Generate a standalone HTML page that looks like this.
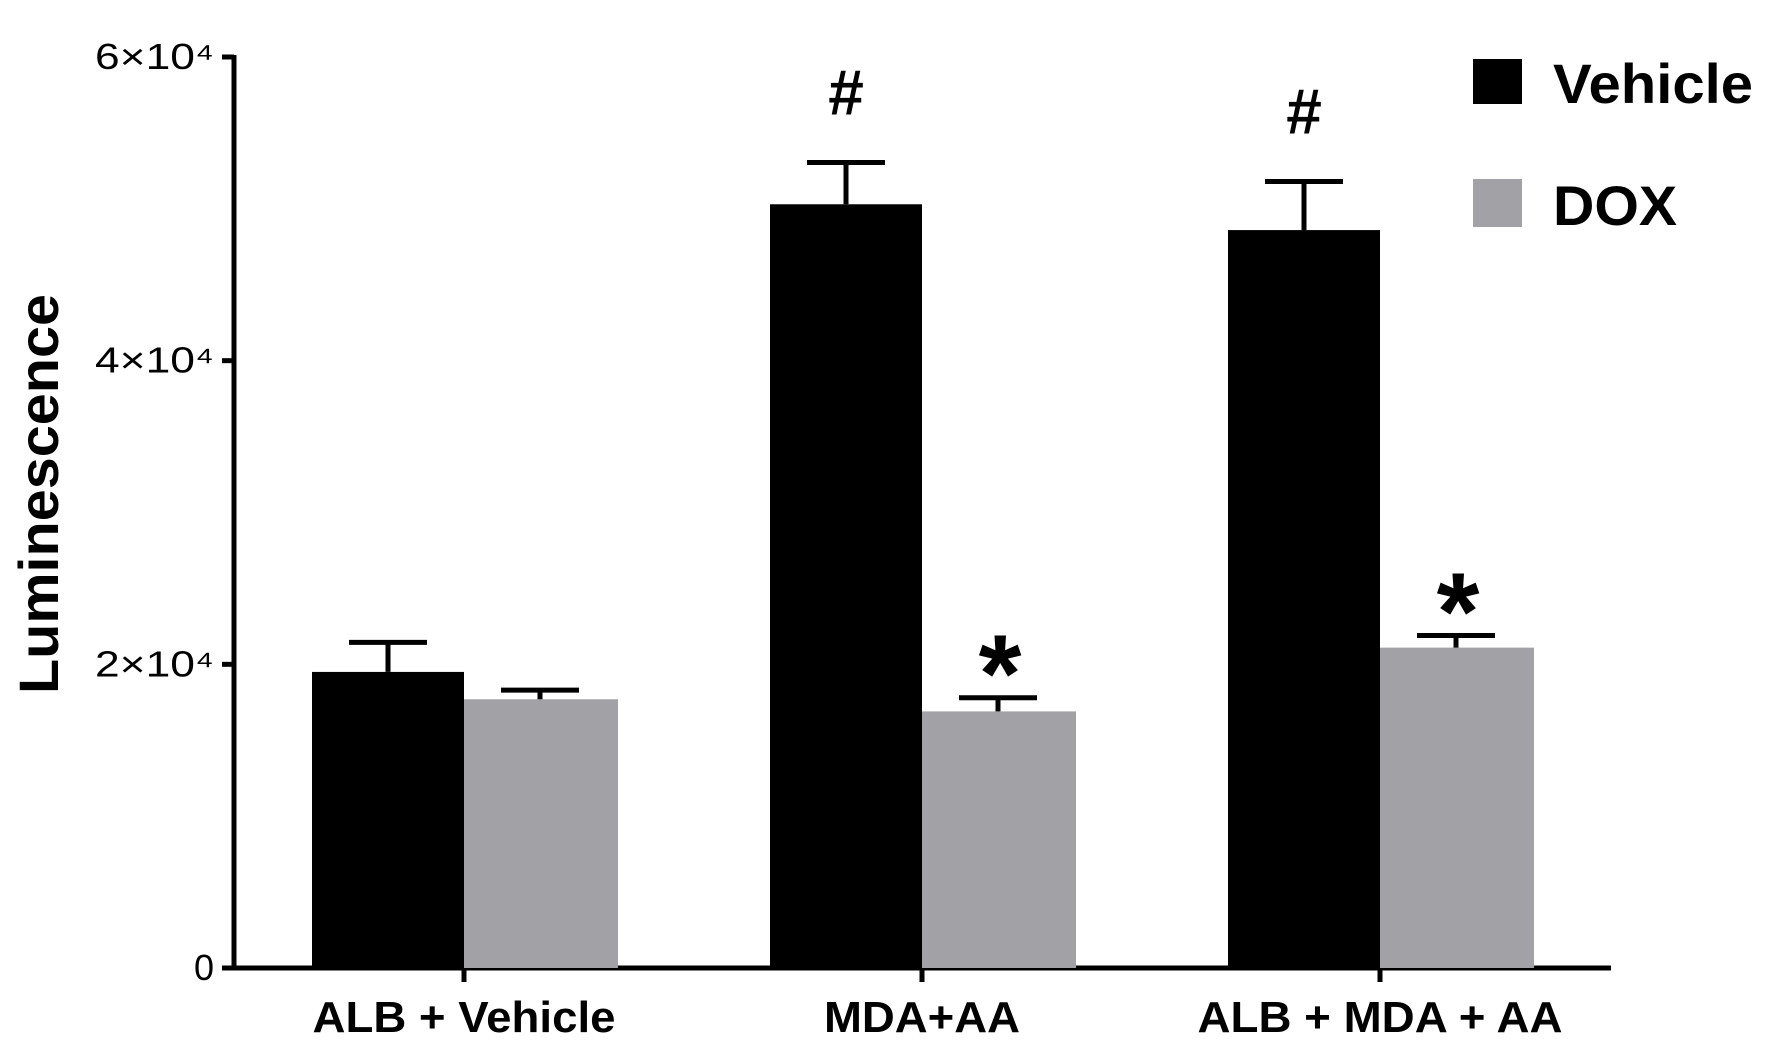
<!DOCTYPE html>
<html><head><meta charset="utf-8"><style>
html,body{margin:0;padding:0;background:#fff;}
svg{display:block;font-family:"Liberation Sans",Arial,sans-serif;}
</style></head><body>
<svg id="chart" width="1774" height="1049" viewBox="0 0 1774 1049">
<g id="axes"></g>
<g id="bars"></g>
<g id="legend">
  <rect x="1473" y="59" width="49" height="45" fill="#000"/>
  <text x="1553" y="103" font-size="56" font-weight="bold" textLength="200" lengthAdjust="spacingAndGlyphs">Vehicle</text>
  <rect x="1473" y="179" width="49" height="48" fill="#a2a2a6"/>
  <text x="1553" y="225" font-size="56" font-weight="bold" textLength="124" lengthAdjust="spacingAndGlyphs">DOX</text>
</g>
<text transform="translate(58,494) rotate(-90)" text-anchor="middle" font-size="56" font-weight="bold" textLength="400" lengthAdjust="spacingAndGlyphs">Luminescence</text>
</svg>
<script>
const categories = ["ALB + Vehicle", "MDA+AA", "ALB + MDA + AA"];
const vehicleValues = [19500, 50300, 48600];
const vehicleErrors = [1950, 2750, 3200];
const doxValues = [17700, 16900, 21100];
const doxErrors = [600, 900, 800];
const yTicks = [0, 20000, 40000, 60000];
const yTickLabels = ["0", "2×10⁴", "4×10⁴", "6×10⁴"];
const markers = ["", "#", "#"];
const doxMarkers = ["", "*", "*"];

const NS = "http://www.w3.org/2000/svg";
const y0 = 968, yTop = 57, yMax = 60000;
function yScale(v){ return y0 - (v / yMax) * (y0 - yTop); }
const groupCenter0 = 464, groupStep = 458, barW = 152;
const xLabelWidths = [303, 196, 365];
function xCenter(i){ return groupCenter0 + i * groupStep; }
function mk(tag, attrs, parent){
  const el = document.createElementNS(NS, tag);
  for (const k in attrs) el.setAttribute(k, attrs[k]);
  parent.appendChild(el);
  return el;
}
const axes = document.getElementById('axes');
const bars = document.getElementById('bars');

categories.forEach((c, i) => {
  const cx = xCenter(i);
  const vt = yScale(vehicleValues[i]);
  const b1 = mk('rect', {x: cx - barW, y: vt, width: barW, height: y0 - vt, fill: '#000'}, bars);
  
  
  const ve = yScale(vehicleValues[i] + vehicleErrors[i]);
  const e1 = mk('path', {d: `M${cx - barW/2} ${vt} V${ve} M${cx - barW/2 - 39} ${ve} H${cx - barW/2 + 39}`, stroke: '#000', 'stroke-width': 5, fill: 'none'}, bars);
  
  
  const dt = yScale(doxValues[i]);
  const b2 = mk('rect', {x: cx, y: dt, width: barW + 2, height: y0 - dt, fill: '#a2a2a6'}, bars);
  
  
  const de = yScale(doxValues[i] + doxErrors[i]);
  const e2 = mk('path', {d: `M${cx + barW/2} ${dt} V${de} M${cx + barW/2 - 39} ${de} H${cx + barW/2 + 39}`, stroke: '#000', 'stroke-width': 5, fill: 'none'}, bars);
  
  
  if (markers[i]) {
    const t = mk('text', {x: cx - barW/2, y: ve - 48, 'text-anchor': 'middle', 'font-size': 64, 'font-weight': 'bold'}, bars);
    t.textContent = markers[i];
    
    
  }
  if (doxMarkers[i]) {
    const t = mk('text', {x: cx + barW/2 + 2, y: de + 14, 'text-anchor': 'middle', 'font-size': 110, 'font-weight': 'bold'}, bars);
    t.textContent = doxMarkers[i];
    
    
  }
  const tk = mk('line', {x1: cx, x2: cx, y1: y0, y2: y0 + 14, stroke: '#000', 'stroke-width': 5}, axes);
  
  
  const lb = mk('text', {x: cx, y: 1032, 'text-anchor': 'middle', 'font-size': 44, 'font-weight': 'bold', textLength: xLabelWidths[i], lengthAdjust: 'spacingAndGlyphs'}, axes);
  lb.textContent = c;
  
  
});

yTicks.forEach((v, i) => {
  const y = yScale(v);
  const tk = mk('line', {x1: 222, x2: 234, y1: y, y2: y, stroke: '#000', 'stroke-width': 5}, axes);
  
  
  const attrs = {x: 214, y: y + 12, 'text-anchor': 'end', 'font-size': 36};
  if (yTickLabels[i].length > 1) { attrs.textLength = 119; attrs.lengthAdjust = 'spacingAndGlyphs'; }
  const lb = mk('text', attrs, axes);
  lb.textContent = yTickLabels[i];
  
  
});
const ya = mk('line', {x1: 234, x2: 234, y1: yTop - 2, y2: y0 + 2, stroke: '#000', 'stroke-width': 5}, axes);


const xa = mk('line', {x1: 222, x2: 1611, y1: y0, y2: y0, stroke: '#000', 'stroke-width': 5}, axes);


</script>
</body></html>
